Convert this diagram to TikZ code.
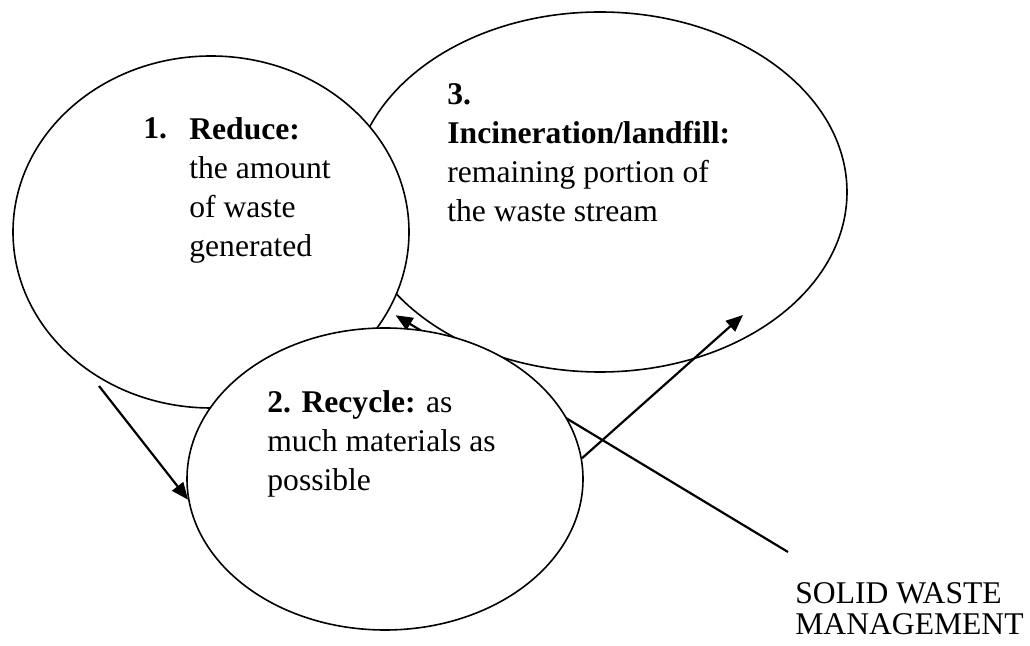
\documentclass[tikz,border=0pt]{standalone}
\usepackage{fontspec}
\setmainfont{Liberation Serif}
\usetikzlibrary{shapes.geometric,arrows.meta}

\begin{document}
\begin{tikzpicture}[x=0.5pt,y=-0.5pt,
  bubble/.style={ellipse, draw=black, line width=0.8pt, fill=white, inner sep=0pt},
  txt/.style={anchor=base west, inner sep=0pt, align=left, font=\fontsize{15.8}{19.6}\selectfont},
  pointer/.style={-{Triangle[length=8.5pt,width=7pt]}, line width=1.1pt}]

\useasboundingbox (0,0) rectangle (1030,646);

% Ellissi (3 sotto, poi 1)
\node[bubble, minimum width=247pt, minimum height=180pt] (e3) at (600,192) {};
\node[bubble, minimum width=198pt, minimum height=176pt] (e1) at (211,232) {};

% Freccia verso 1 (passa sotto l'ellisse 2)
\coordinate (sw) at (788,552);
\draw[pointer, shorten >=4pt] (sw) -- (e1.-24);

% Ellisse 2
\node[bubble, minimum width=198pt, minimum height=151pt] (e2) at (385,479) {};

% Testi (base = ultima riga)
\node[txt] (n1) at (143,139) {\textbf{1.}};
\node[txt] (t1) at (189,257) {\textbf{Reduce:}\\the amount\\of waste\\generated};
\node[txt] (t3) at (447,222) {\textbf{3.}\\\textbf{Incineration/landfill:}\\remaining portion of\\the waste stream};
\node[txt] (t2) at (267,491) {\textbf{2. Recycle:} as\\much materials as\\possible};
\node[txt, font=\fontsize{15.8}{15.5}\selectfont] (swm) at (795,635) {SOLID WASTE\\MANAGEMENT};

% Frecce
\coordinate (a0) at (99,386);
\coordinate (c1) at (743,315);
\draw[pointer] (a0) -- (e2.186);
\draw[pointer] (e2.6) -- (c1);

\end{tikzpicture}
\end{document}
